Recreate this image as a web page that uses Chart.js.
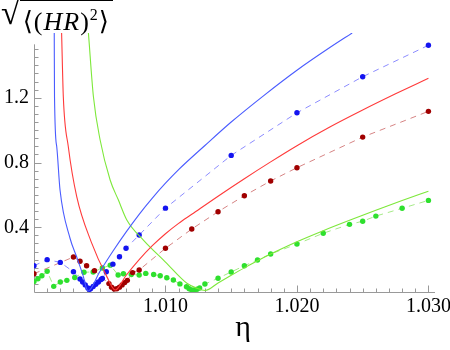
<!DOCTYPE html>
<html>
<head>
<meta charset="utf-8">
<script src="https://cdn.jsdelivr.net/npm/chart.js@4.4.1/dist/chart.umd.min.js"></script>
<style>
  body { margin: 0; background: #fff; }
  #wrap { position: relative; width: 450px; height: 350px; }
  #ylab {
    position: absolute; left: 1px; top: -3px;
    font-family: 'Liberation Serif', 'DejaVu Serif', 'Times New Roman', Times, serif; font-size: 26px;
    white-space: nowrap; line-height: 31px; color: #000;
  }
  #ylab .rad { font-size: 34px; vertical-align: top; }
  #ylab .ol { display: inline-block; border-top: 1px solid #000; padding: 0 3px; line-height: 28px; margin-top: 3px; letter-spacing: 1px; }
  #ylab sup { font-size: 16px; }
</style>
</head>
<body>
<div id="wrap">
  <canvas id="chart" width="450" height="350"></canvas>
  <div id="ylab"><span class="rad">√</span><span class="ol">⟨(<i>HR</i>)<sup>2</sup>⟩</span></div>
</div>
<script>
const SERIF = "'Liberation Serif', 'DejaVu Serif', 'Times New Roman', Times, serif";

// measured points (dots + dashed line)
const blueEta = [1.000, 1.001, 1.002, 1.003, 1.0035, 1.0037, 1.0039, 1.0041, 1.0042, 1.0043, 1.0045, 1.0047, 1.0049, 1.0051, 1.0052, 1.0055, 1.006, 1.0065, 1.007, 1.008, 1.010, 1.015, 1.020, 1.025, 1.030];
const blueVals = [0.162, 0.200, 0.183, 0.125, 0.080, 0.062, 0.044, 0.025, 0.016, 0.020, 0.034, 0.048, 0.062, 0.077, 0.084, 0.125, 0.172, 0.218, 0.270, 0.352, 0.518, 0.844, 1.107, 1.330, 1.524];

const redEta = [1.000, 1.003, 1.0035, 1.004, 1.0046, 1.0057, 1.0059, 1.0061, 1.0063, 1.0065, 1.0067, 1.0069, 1.0071, 1.0075, 1.008, 1.010, 1.012, 1.014, 1.016, 1.018, 1.020, 1.025, 1.030];
const redVals = [0.113, 0.216, 0.190, 0.162, 0.132, 0.052, 0.030, 0.018, 0.020, 0.030, 0.044, 0.058, 0.072, 0.120, 0.136, 0.270, 0.389, 0.496, 0.595, 0.686, 0.768, 0.957, 1.116];

const greenEta = [1.000, 1.0003, 1.0006, 1.001, 1.0015, 1.002, 1.0025, 1.0031, 1.0038, 1.0045, 1.0052, 1.0058, 1.0064, 1.0068, 1.0074, 1.008, 1.0085, 1.0091, 1.0096, 1.0101, 1.0106, 1.0111, 1.0116, 1.0118, 1.012, 1.0122, 1.0124, 1.0126, 1.013, 1.014, 1.015, 1.016, 1.017, 1.018, 1.020, 1.022, 1.024, 1.025, 1.026, 1.028, 1.030];
const greenVals = [0.065, 0.082, 0.100, 0.128, 0.035, 0.062, 0.072, 0.090, 0.122, 0.124, 0.148, 0.166, 0.105, 0.113, 0.108, 0.105, 0.115, 0.108, 0.100, 0.088, 0.074, 0.050, 0.032, 0.020, 0.012, 0.013, 0.017, 0.025, 0.049, 0.085, 0.124, 0.162, 0.198, 0.235, 0.296, 0.363, 0.418, 0.437, 0.469, 0.517, 0.566];

// theory curves (solid)
const blueFitEta = [1.00154, 1.00156, 1.00173, 1.00198, 1.00274, 1.00325, 1.0037, 1.00411, 1.005, 1.006, 1.007, 1.008, 1.009, 1.010, 1.011, 1.013, 1.015, 1.0175, 1.020, 1.0225, 1.0242];
const blueFitVals = [1.60, 1.206, 0.897, 0.630, 0.332, 0.216, 0.110, 0.006, 0.125, 0.252, 0.370, 0.480, 0.580, 0.672, 0.756, 0.905, 1.050, 1.215, 1.370, 1.510, 1.600];

const redFitEta = [1.00210, 1.00223, 1.00261, 1.00325, 1.00435, 1.00554, 1.00617, 1.007, 1.008, 1.009, 1.010, 1.011, 1.012, 1.014, 1.016, 1.018, 1.020, 1.0225, 1.025, 1.0275, 1.030];
const redFitVals = [1.60, 1.206, 0.897, 0.589, 0.310, 0.095, 0.012, 0.102, 0.200, 0.286, 0.360, 0.424, 0.480, 0.592, 0.700, 0.804, 0.904, 1.019, 1.124, 1.224, 1.321];

const greenFitEta = [1.00414, 1.00452, 1.00503, 1.00579, 1.00642, 1.00706, 1.00832, 1.0100, 1.01163, 1.01239, 1.01302, 1.014, 1.015, 1.016, 1.017, 1.018, 1.019, 1.020, 1.022, 1.024, 1.026, 1.028, 1.030];
const greenFitVals = [1.60, 1.206, 0.939, 0.692, 0.568, 0.445, 0.321, 0.185, 0.054, 0.023, 0.009, 0.056, 0.103, 0.149, 0.193, 0.235, 0.274, 0.311, 0.379, 0.443, 0.505, 0.565, 0.623];

const xTickVals = [1.010, 1.020, 1.030];
const xTickLabels = ['1.010', '1.020', '1.030'];
const yTickVals = [0.4, 0.8, 1.2];
const yTickLabels = ['0.4', '0.8', '1.2'];

const pts = (xs, ys) => xs.map((x, i) => ({ x: x, y: ys[i] }));

const solid = (data, color) => ({
  data: data, showLine: true, borderColor: color, borderWidth: 1.1,
  pointRadius: 0, cubicInterpolationMode: 'monotone'
});
const dotted = (data, lineColor, dotColor) => ({
  data: data, showLine: true, borderColor: lineColor, borderWidth: 1,
  borderDash: [6, 5], pointRadius: 2.7, pointBorderWidth: 0,
  pointBackgroundColor: dotColor
});

// Mathematica style axes: crossing at (1.000, 0), ticks pointing inward
const axesPlugin = {
  id: 'mmaAxes',
  beforeDatasetsDraw(chart) {
    const { ctx, scales: { x, y } } = chart;
    const x0 = Math.round(x.getPixelForValue(1.0)) + 0.5;
    const y0 = Math.round(y.getPixelForValue(0)) + 0.5;
    ctx.save();
    ctx.strokeStyle = '#999';
    ctx.lineWidth = 1;
    ctx.beginPath();
    ctx.moveTo(x0, y0); ctx.lineTo(x.right, y0);
    ctx.moveTo(x0, y0); ctx.lineTo(x0, y.getPixelForValue(1.53));
    for (let i = 1; i <= 30; i++) {
      const px = Math.round(x.getPixelForValue(1 + i * 0.001)) + 0.5;
      const len = i % 10 === 0 ? 7 : 4;
      ctx.moveTo(px, y0); ctx.lineTo(px, y0 - len);
    }
    for (let i = 1; i <= 30; i++) {
      const py = Math.round(y.getPixelForValue(i * 0.05)) + 0.5;
      const len = i % 8 === 0 ? 7 : 4;
      ctx.moveTo(x0, py); ctx.lineTo(x0 + len, py);
    }
    ctx.stroke();
    ctx.restore();
  },
  afterDraw(chart) {
    const { ctx, scales: { x, y } } = chart;
    ctx.save();
    ctx.fillStyle = '#000';
    ctx.font = '20px ' + SERIF;
    ctx.textAlign = 'center';
    ctx.textBaseline = 'top';
    xTickVals.forEach((v, i) => ctx.fillText(xTickLabels[i], x.getPixelForValue(v), 297));
    ctx.textAlign = 'right';
    ctx.textBaseline = 'middle';
    yTickVals.forEach((v, i) => ctx.fillText(yTickLabels[i], 29, y.getPixelForValue(v)));
    ctx.font = '30px ' + SERIF;
    ctx.textAlign = 'center';
    ctx.textBaseline = 'alphabetic';
    ctx.fillText('η', 243, 336);
    ctx.restore();
  }
};

new Chart(document.getElementById('chart'), {
  type: 'scatter',
  data: {
    datasets: [
      solid(pts(blueFitEta, blueFitVals), '#4a5cff'),
      solid(pts(redFitEta, redFitVals), '#ff3a3a'),
      solid(pts(greenFitEta, greenFitVals), '#7de83a'),
      dotted(pts(blueEta, blueVals), '#8c8cff', '#1414f0'),
      dotted(pts(redEta, redVals), '#d68484', '#a00000'),
      dotted(pts(greenEta, greenVals), '#a6ea88', '#2ee02e')
    ]
  },
  options: {
    responsive: false,
    animation: false,
    layout: { padding: { left: 34, right: 15, top: 33, bottom: 58 } },
    plugins: { legend: { display: false }, tooltip: { enabled: false } },
    scales: {
      x: { type: 'linear', display: false, min: 1.0, max: 1.0305 },
      y: { type: 'linear', display: false, min: 0, max: 1.6 }
    }
  },
  plugins: [axesPlugin]
});
</script>
</body>
</html>
